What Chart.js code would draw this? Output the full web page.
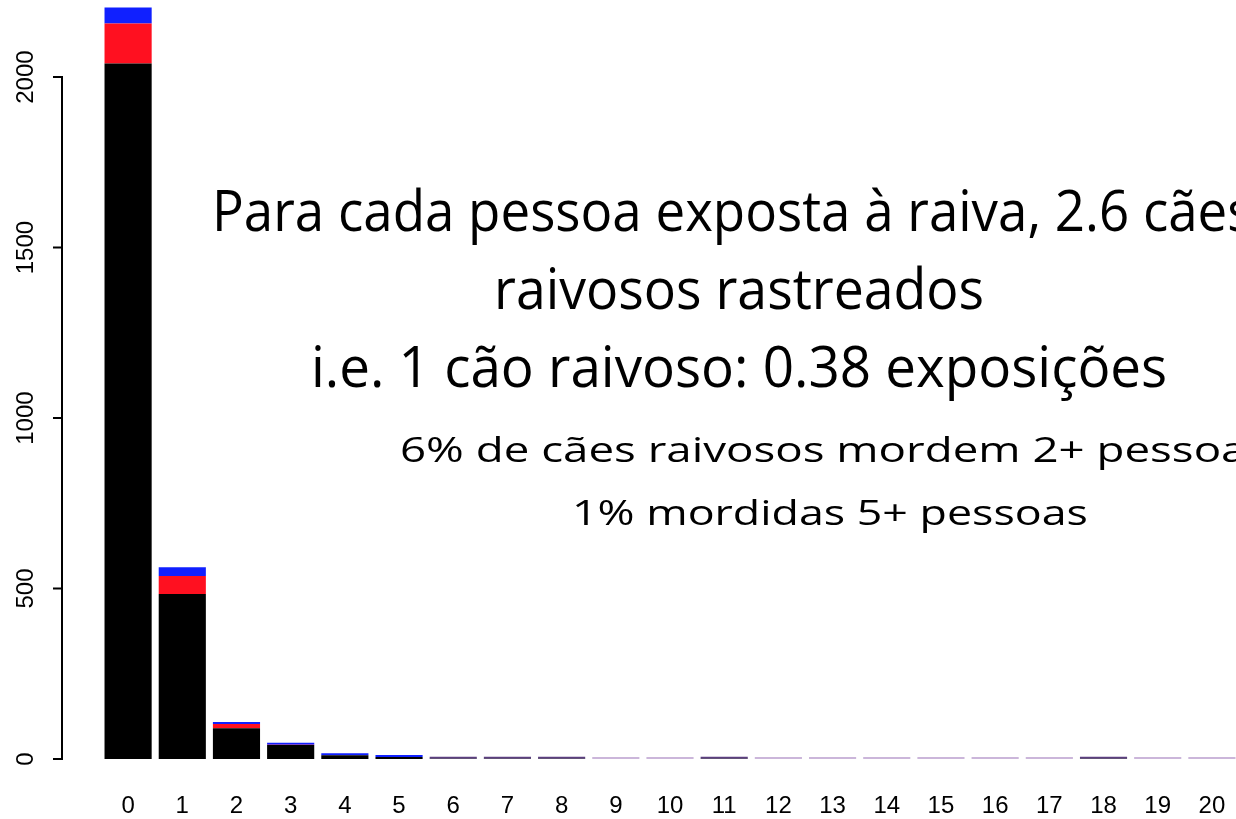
<!DOCTYPE html>
<html>
<head>
<meta charset="utf-8">
<script src="https://cdn.jsdelivr.net/npm/chart.js"></script>
<style>
  body { margin: 0; overflow: hidden; background: #fff; }
  #wrap { position: relative; width: 1240px; height: 819px; }
  #chart { position: absolute; left: 0; top: 0; }
  .txt { position: absolute; left: 0; top: 0; white-space: nowrap; color: #000;
         font-family: "Open Sans", sans-serif; transform-origin: 0 0; }
  .big { font-size: 56px; }
  .small { font-size: 34px; }
  .txt i { display: inline-block; width: 0; height: 0; }
</style>
</head>
<body>
<div id="wrap">
  <canvas id="chart" width="1240" height="819"></canvas>
  <div class="txt big" id="l1"><span class="a">Para cada pessoa exposta à raiva, 2.6 </span><span>cães</span><i></i></div>
  <div class="txt big" id="l2"><span class="a">raivosos rastreados</span><i></i></div>
  <div class="txt big" id="l3"><span class="a">i.e. 1 cão raivoso: 0.38 exposições</span><i></i></div>
  <div class="txt small" id="l4"><span class="a">6% de cães raivosos mordem 2+ </span><span>pessoas</span><i></i></div>
  <div class="txt small" id="l5"><span class="a">1% mordidas 5+ pessoas</span><i></i></div>
</div>
<script>
// bites per rabid dog (0..20)
const categories = ["0", "1", "2", "3", "4", "5", "6", "7", "8", "9", "10",
                    "11", "12", "13", "14", "15", "16", "17", "18", "19", "20"];
const blackCounts = [2040, 484, 90, 41, 11, 6, 1, 1, 1, 0, 0, 1, 0, 0, 0, 0, 0, 0, 1, 0, 0];
const redCounts   = [117, 53, 13, 1, 0, 0, 0, 0, 0, 0, 0, 0, 0, 0, 0, 0, 0, 0, 0, 0, 0];
const blueCounts  = [47, 25, 3, 4, 3, 3, 1, 1, 1, 0, 0, 1, 0, 0, 0, 0, 0, 0, 1, 0, 0];
const yTicks = [0, 500, 1000, 1500, 2000];

// tail bars are hairlines, purple where something is there, pale otherwise
const blueColors = blueCounts.map((v, i) => i < 6 ? "#1020ff" : (v > 0 ? "#5c3f80" : "#cbb6da"));

const axisFont = '24px "Liberation Sans", Arial, sans-serif';

// R style y axis: line only from first to last tick, sitting left of the bars
const rAxis = {
    id: "rAxis",
    afterDraw(chart) {
        const y = chart.scales.y;
        const ctx = chart.ctx;
        const x0 = 62;
        ctx.save();
        ctx.strokeStyle = "#000";
        ctx.lineWidth = 2;
        ctx.beginPath();
        ctx.moveTo(x0, y.getPixelForValue(yTicks[0]) + 1);
        ctx.lineTo(x0, y.getPixelForValue(yTicks[yTicks.length - 1]) - 1);
        yTicks.forEach(v => {
            let p = y.getPixelForValue(v);
            ctx.moveTo(x0 - 9, p);
            ctx.lineTo(x0 + 1, p);
        });
        ctx.stroke();

        ctx.fillStyle = "#000";
        ctx.font = axisFont;
        ctx.textAlign = "center";
        ctx.textBaseline = "middle";
        yTicks.forEach(v => {
            ctx.save();
            ctx.translate(26, y.getPixelForValue(v));
            ctx.rotate(-Math.PI / 2);
            ctx.fillText(String(v), 0, 0);
            ctx.restore();
        });
        ctx.restore();
    }
};

chart = new Chart(document.getElementById("chart"), {
    type: "bar",
    data: {
        labels: categories,
        datasets: [
            { data: blackCounts, backgroundColor: "#000000", borderWidth: 0 },
            { data: redCounts, backgroundColor: "#ff1020", borderWidth: 0 },
            { data: blueCounts, backgroundColor: blueColors, borderWidth: 0, minBarLength: 2 }
        ]
    },
    options: {
        responsive: false,
        animation: false,
        layout: { padding: { left: 101, right: 1, top: 0, bottom: 1 } },
        barPercentage: 0.87,
        categoryPercentage: 1,
        plugins: { legend: { display: false }, tooltip: { enabled: false } },
        scales: {
            x: {
                stacked: true,
                // invisible tick marks just push the labels down
                grid: { display: true, drawOnChartArea: false, drawTicks: true, tickLength: 35, color: "rgba(0,0,0,0)" },
                border: { display: false },
                ticks: { color: "#000", font: { family: '"Liberation Sans", Arial, sans-serif', size: 24, lineHeight: 1 },
                         padding: 0, maxRotation: 0, autoSkip: false }
            },
            y: {
                stacked: true,
                display: false,
                min: 0,
                max: 2226
            }
        }
    },
    plugins: [rAxis]
});

// overlay text: fit widths to the slide, put each baseline where it belongs
function natural(id) {
    return document.querySelector("#" + id + " .a").offsetWidth;
}
function place(id, left, baseline, scale) {
    let el = document.getElementById(id);
    let off = el.querySelector("i").offsetTop;
    el.style.left = left + "px";
    el.style.top = (baseline - off) + "px";
    el.style.transform = "scaleX(" + scale + ")";
}
function layoutText() {
    place("l1", 212, 231, 931 / natural("l1"));
    place("l2", 494, 309, 490 / natural("l2"));
    place("l3", 311, 387, 856 / natural("l3"));
    place("l4", 400, 462, 697 / natural("l4"));
    place("l5", 572, 525, 516 / natural("l5"));
}
layoutText();
if (document.fonts) document.fonts.ready.then(layoutText);
</script>
</body>
</html>
